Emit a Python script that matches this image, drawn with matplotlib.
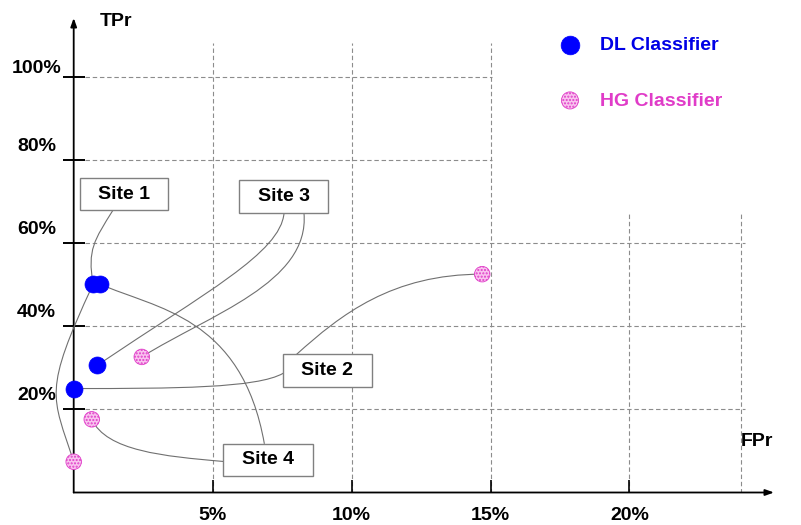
import matplotlib
matplotlib.use("Agg")
import matplotlib.pyplot as plt
import numpy as np
from matplotlib.path import Path
from matplotlib.patches import PathPatch, Rectangle
from matplotlib.transforms import ScaledTranslation

plt.rcParams['font.family'] = ['Liberation Sans', 'DejaVu Sans']
plt.rcParams['font.weight'] = 'bold'
plt.rcParams['hatch.color'] = '#e03cc8'
plt.rcParams['hatch.linewidth'] = 1.0

# ---- data: false-positive rate (%) and true-positive rate (%) per site ----
sites = ["Site 1", "Site 2", "Site 3", "Site 4"]
dl_fpr = [0.7, 0.0, 0.85, 0.95]
dl_tpr = [50.1, 25.0, 30.6, 50.1]
hg_fpr = [0.0, 14.7, 2.45, 0.65]
hg_tpr = [7.4, 52.5, 32.6, 17.6]

x_ticks = [5, 10, 15, 20]
x_tick_labels = ["5%", "10%", "15%", "20%"]
y_ticks = [20, 40, 60, 80, 100]
y_tick_labels = ["20%", "40%", "60%", "80%", "100%"]

DL_COLOR = '#0000ff'
DL_TEXT = '#0000e6'
HG_EDGE = '#e03cc8'
HG_FACE = '#f9c4ef'
LINK_COLOR = '#707070'
GRID_COLOR = '#8c8c8c'

# label boxes (x0, y0, x1, y1) in data units
boxes = {
    "Site 1": (0.23, 67.9, 3.39, 75.6),
    "Site 2": (7.54, 25.4, 10.72, 33.2),
    "Site 3": (5.95, 67.2, 9.15, 75.1),
    "Site 4": (5.38, 4.0, 8.60, 11.7),
}

# connectors: site, target series, start anchor on box (rx, ry) or 'dl' to start
# at the site's DL point, start angle/handle, arrival angle/handle (display px)
links = [
    ("Site 1", "dl", (0.375, 0.0), -122, 35, -80, 35),
    ("Site 1", "hg", "dl", -115, 120, -72, 70),
    ("Site 3", "dl", (0.506, 0.0), -95, 40, -146, 130),
    ("Site 3", "hg", (0.73, 0.0), -85, 70, -148, 80),
    ("Site 2", "dl", (0.0, 0.42), -150, 30, 180, 100),
    ("Site 2", "hg", (0.15, 1.0), 42, 60, 0, 90),
    ("Site 4", "hg", (0.0, 0.45), 175, 60, 115, 35),
    ("Site 4", "dl", (0.46, 1.0), 100, 130, 156, 60),
]

fig = plt.figure(figsize=(8.01, 5.25), dpi=100)
ax = fig.add_axes([73.7 / 801, 32.5 / 525, 700.3 / 801, 474.5 / 525])
ax.set_xlim(0, 25.2)
ax.set_ylim(0, 114.1)
for s in ax.spines.values():
    s.set_visible(False)

# dashed reference grid
grid_kw = dict(color=GRID_COLOR, lw=0.8, linestyle=(0, (4, 2.5)), zorder=1)
for y in (80, 100):
    ax.plot([0.4, 15.05], [y, y], **grid_kw)
for y in (20, 40, 60):
    ax.plot([0.4, 24.15], [y, y], **grid_kw)
for x in (5, 10, 15):
    ax.plot([x, x], [0, 108], **grid_kw)
for x in (20, 24):
    ax.plot([x, x], [0, 67], **grid_kw)

# axes with arrow heads
arrow_kw = dict(arrowstyle='-|>,head_length=0.5,head_width=0.18', lw=1.3,
                color='black', shrinkA=0, shrinkB=0)
ax.annotate('', xy=(0, 1), xytext=(0, 0), xycoords='axes fraction',
            arrowprops=arrow_kw, annotation_clip=False)
ax.annotate('', xy=(1, 0), xytext=(0, 0), xycoords='axes fraction',
            arrowprops=arrow_kw, annotation_clip=False)

# ticks
ax.set_xticks(x_ticks, x_tick_labels, fontsize=14, fontweight='bold')
ax.tick_params(axis='x', direction='in', length=9.5, width=1.2, pad=10.5)
ax.set_yticks(y_ticks, y_tick_labels, fontsize=14, fontweight='bold')
ax.tick_params(axis='y', direction='inout', length=16, width=1.4, pad=0)
for lbl in ax.get_yticklabels():
    dy = 0.10 if lbl.get_text() == "100%" else 0.155
    lbl.set_horizontalalignment('center')
    lbl.set_transform(lbl.get_transform()
                      + ScaledTranslation(-0.26, dy, fig.dpi_scale_trans))

ax.text(1.52, 113.3, "TPr", fontsize=14, fontweight='bold', ha='center',
        va='center', clip_on=False)
ax.text(24.58, 12.2, "FPr", fontsize=14, fontweight='bold', ha='center',
        va='center', clip_on=False)

# label boxes
for name, (x0, y0, x1, y1) in boxes.items():
    ax.add_patch(Rectangle((x0, y0), x1 - x0, y1 - y0, fc='white',
                           ec='#808080', lw=1.0, zorder=4))
    ax.text((x0 + x1) / 2, (y0 + y1) / 2, name, fontsize=14,
            fontweight='bold', ha='center', va='center', zorder=5)


def draw_link(p0, p3, a0, l0, a1, l1):
    to_disp = ax.transData.transform
    to_data = ax.transData.inverted().transform
    d0 = to_disp(p0)
    d3 = to_disp(p3)
    r0, r1 = np.radians(a0), np.radians(a1)
    c1 = d0 + l0 * np.array([np.cos(r0), np.sin(r0)])
    c2 = d3 - l1 * np.array([np.cos(r1), np.sin(r1)])
    verts = to_data(np.array([d0, c1, c2, d3]))
    path = Path(verts, [Path.MOVETO, Path.CURVE4, Path.CURVE4, Path.CURVE4])
    ax.add_patch(PathPatch(path, fill=False, ec=LINK_COLOR, lw=0.8, zorder=3,
                           clip_on=False))


for name, series, anchor, a0, l0, a1, l1 in links:
    i = sites.index(name)
    end = (dl_fpr[i], dl_tpr[i]) if series == "dl" else (hg_fpr[i], hg_tpr[i])
    if anchor == "dl":
        start = (dl_fpr[i], dl_tpr[i])
    else:
        x0, y0, x1, y1 = boxes[name]
        start = (x0 + anchor[0] * (x1 - x0), y0 + anchor[1] * (y1 - y0))
    draw_link(start, end, a0, l0, a1, l1)

dl = ax.scatter(dl_fpr, dl_tpr, s=150, color=DL_COLOR, edgecolor=DL_COLOR,
                linewidth=0.5, zorder=6, clip_on=False, label="DL Classifier")
hg = ax.scatter(hg_fpr, hg_tpr, s=125, facecolor=HG_FACE, edgecolor=HG_EDGE,
                hatch='.....', linewidth=0.6, zorder=6, clip_on=False,
                label="HG Classifier")

leg = ax.legend(handles=[dl, hg], loc='upper left',
                bbox_to_anchor=(558.3 / 801, (525 - 36) / 525),
                bbox_transform=fig.transFigure, frameon=False,
                prop=dict(size=14, weight='bold'), handlelength=1.2,
                handletextpad=0.94, labelspacing=1.97, borderpad=0,
                borderaxespad=0, scatterpoints=1, markerscale=1.1,
                labelcolor=[DL_TEXT, HG_EDGE])

fig.savefig("out.png", dpi=100)
